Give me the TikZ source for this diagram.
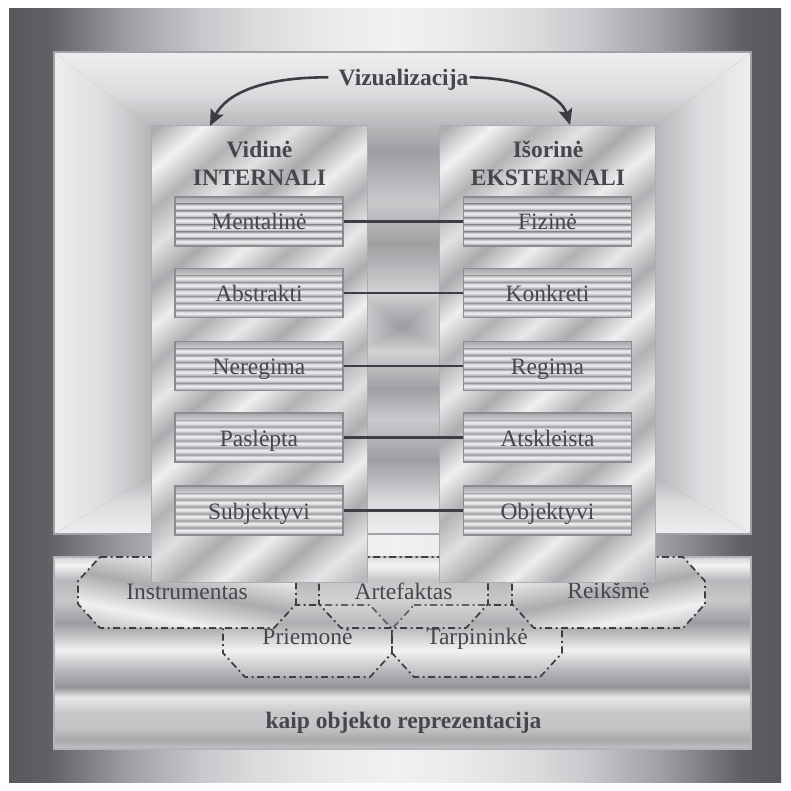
\documentclass[tikz,border=0pt]{standalone}
\usepackage{fontspec}
\setmainfont{Liberation Serif}
\usetikzlibrary{arrows.meta,calc}

% ---------- colours ----------
\definecolor{ink}{HTML}{47474B}
\definecolor{inkdark}{HTML}{3E3E42}
\definecolor{frameline}{HTML}{A2A2A6}
\definecolor{panelline}{HTML}{ADADB1}
\definecolor{itemline}{HTML}{8C8C90}
\definecolor{bandline}{HTML}{B4B4B8}

% ---------- fonts ----------
\newcommand\itemfnt{\fontsize{23.5}{28}\selectfont}
\newcommand\headfnt{\fontsize{23.5}{28}\selectfont\bfseries}

% ---------- shadings ----------
% outer backdrop: dark at both sides, bright in the middle
\pgfdeclarehorizontalshading{outerbg}{100bp}{%
 rgb(0bp)=(0.345,0.345,0.36); rgb(25bp)=(0.345,0.345,0.36);
 rgb(27.6bp)=(0.38,0.38,0.395); rgb(30.9bp)=(0.54,0.54,0.555);
 rgb(32.8bp)=(0.627,0.627,0.643); rgb(37.4bp)=(0.784,0.784,0.8);
 rgb(41.2bp)=(0.863,0.863,0.871); rgb(45.8bp)=(0.918,0.918,0.925);
 rgb(50bp)=(0.945,0.945,0.953);
 rgb(54.2bp)=(0.918,0.918,0.925); rgb(58.8bp)=(0.863,0.863,0.871);
 rgb(62.6bp)=(0.784,0.784,0.8); rgb(67.2bp)=(0.627,0.627,0.643);
 rgb(69.1bp)=(0.54,0.54,0.555); rgb(72.4bp)=(0.38,0.38,0.395);
 rgb(75bp)=(0.345,0.345,0.36); rgb(100bp)=(0.345,0.345,0.36)}

% frame profile, edge (t=0) -> centre (t=1)
\pgfdeclareverticalshading{frameRiseV}{100bp}{%
 rgb(0bp)=(0.933,0.933,0.94); rgb(25bp)=(0.933,0.933,0.94);
 rgb(32.5bp)=(0.863,0.863,0.875); rgb(38.5bp)=(0.722,0.722,0.735);
 rgb(43bp)=(0.62,0.62,0.635); rgb(52.5bp)=(0.792,0.792,0.805);
 rgb(60bp)=(0.627,0.627,0.64); rgb(69bp)=(0.824,0.824,0.835);
 rgb(75bp)=(0.604,0.604,0.62); rgb(100bp)=(0.604,0.604,0.62)}
\pgfdeclareverticalshading{frameFallV}{100bp}{%
 rgb(0bp)=(0.604,0.604,0.62); rgb(25bp)=(0.604,0.604,0.62);
 rgb(31bp)=(0.824,0.824,0.835); rgb(40bp)=(0.627,0.627,0.64);
 rgb(47.5bp)=(0.792,0.792,0.805); rgb(57bp)=(0.62,0.62,0.635);
 rgb(61.5bp)=(0.722,0.722,0.735); rgb(67.5bp)=(0.863,0.863,0.875);
 rgb(75bp)=(0.933,0.933,0.94); rgb(100bp)=(0.933,0.933,0.94)}
\pgfdeclarehorizontalshading{frameRiseH}{100bp}{%
 rgb(0bp)=(0.933,0.933,0.94); rgb(25bp)=(0.933,0.933,0.94);
 rgb(32.5bp)=(0.863,0.863,0.875); rgb(38.5bp)=(0.722,0.722,0.735);
 rgb(43bp)=(0.62,0.62,0.635); rgb(52.5bp)=(0.792,0.792,0.805);
 rgb(60bp)=(0.627,0.627,0.64); rgb(69bp)=(0.824,0.824,0.835);
 rgb(75bp)=(0.604,0.604,0.62); rgb(100bp)=(0.604,0.604,0.62)}
\pgfdeclarehorizontalshading{frameFallH}{100bp}{%
 rgb(0bp)=(0.604,0.604,0.62); rgb(25bp)=(0.604,0.604,0.62);
 rgb(31bp)=(0.824,0.824,0.835); rgb(40bp)=(0.627,0.627,0.64);
 rgb(47.5bp)=(0.792,0.792,0.805); rgb(57bp)=(0.62,0.62,0.635);
 rgb(61.5bp)=(0.722,0.722,0.735); rgb(67.5bp)=(0.863,0.863,0.875);
 rgb(75bp)=(0.933,0.933,0.94); rgb(100bp)=(0.933,0.933,0.94)}

% lower band: horizontal chrome bands
\pgfdeclareverticalshading{bandV}{100bp}{%
 rgb(0bp)=(0.769,0.769,0.78); rgb(25bp)=(0.769,0.769,0.78);
 rgb(27.3bp)=(0.659,0.659,0.67); rgb(30.7bp)=(0.769,0.769,0.78);
 rgb(34.6bp)=(0.784,0.784,0.795); rgb(38.5bp)=(0.91,0.91,0.918);
 rgb(41.1bp)=(0.58,0.58,0.595); rgb(45.1bp)=(0.706,0.706,0.72);
 rgb(50.8bp)=(0.941,0.941,0.948); rgb(57.8bp)=(0.612,0.612,0.627);
 rgb(63.8bp)=(0.784,0.784,0.795); rgb(69bp)=(0.722,0.722,0.735);
 rgb(72.9bp)=(0.957,0.957,0.962); rgb(75bp)=(0.831,0.831,0.842);
 rgb(100bp)=(0.831,0.831,0.842)}

% one stripe of a ribbed item box
\pgfdeclareverticalshading{stripe}{100bp}{%
 rgb(0bp)=(0.56,0.56,0.575); rgb(25bp)=(0.58,0.58,0.595);
 rgb(35bp)=(0.72,0.72,0.735); rgb(50bp)=(0.9,0.9,0.91);
 rgb(60bp)=(0.93,0.93,0.94); rgb(68bp)=(0.8,0.8,0.812);
 rgb(75bp)=(0.66,0.66,0.675); rgb(100bp)=(0.66,0.66,0.675)}

% brushed metal streaks
\pgfdeclarehorizontalshading{brushed}{100bp}{%
 rgb(0bp)=(0.769,0.769,0.78); rgb(2.5bp)=(0.933,0.933,0.94);
 rgb(5bp)=(0.671,0.671,0.685); rgb(7.5bp)=(0.902,0.902,0.91);
 rgb(10bp)=(0.70,0.70,0.712); rgb(12.5bp)=(0.949,0.949,0.955);
 rgb(15bp)=(0.665,0.665,0.68); rgb(17.5bp)=(0.871,0.871,0.88);
 rgb(20bp)=(0.716,0.716,0.73); rgb(22.5bp)=(0.941,0.941,0.948);
 rgb(25bp)=(0.679,0.679,0.69); rgb(27.5bp)=(0.91,0.91,0.918);
 rgb(30bp)=(0.673,0.673,0.686); rgb(32.5bp)=(0.949,0.949,0.955);
 rgb(35bp)=(0.70,0.70,0.712); rgb(37.5bp)=(0.886,0.886,0.895);
 rgb(40bp)=(0.667,0.667,0.68); rgb(42.5bp)=(0.933,0.933,0.94);
 rgb(45bp)=(0.695,0.695,0.708); rgb(47.5bp)=(0.91,0.91,0.918);
 rgb(50bp)=(0.673,0.673,0.686); rgb(52.5bp)=(0.941,0.941,0.948);
 rgb(55bp)=(0.70,0.70,0.712); rgb(57.5bp)=(0.878,0.878,0.888);
 rgb(60bp)=(0.679,0.679,0.69); rgb(62.5bp)=(0.933,0.933,0.94);
 rgb(65bp)=(0.673,0.673,0.686); rgb(67.5bp)=(0.902,0.902,0.91);
 rgb(70bp)=(0.716,0.716,0.73); rgb(72.5bp)=(0.949,0.949,0.955);
 rgb(75bp)=(0.665,0.665,0.68); rgb(77.5bp)=(0.871,0.871,0.88);
 rgb(80bp)=(0.70,0.70,0.712); rgb(82.5bp)=(0.941,0.941,0.948);
 rgb(85bp)=(0.679,0.679,0.69); rgb(87.5bp)=(0.91,0.91,0.918);
 rgb(90bp)=(0.673,0.673,0.686); rgb(92.5bp)=(0.933,0.933,0.94);
 rgb(95bp)=(0.70,0.70,0.712); rgb(97.5bp)=(0.894,0.894,0.902);
 rgb(100bp)=(0.753,0.753,0.765)}

\begin{document}
\begin{tikzpicture}[x={(1pt,0)},y={(0,-1pt)},
  panel/.style={draw=panelline, line width=1pt, inner sep=0pt,
    minimum width=216pt, minimum height=456pt,
    path picture={\shade[shading=brushed,shading angle=-50]
      ($(path picture bounding box.center)+(-300,-300)$) rectangle +(600,600);}},
  itembox/.style={draw=itemline, line width=1.2pt, inner sep=0pt,
    minimum width=168pt, minimum height=49pt, text height=17pt, text depth=0pt,
    font=\itemfnt, text=ink,
    path picture={\foreach \i in {0,...,6}{\shade[shading=stripe]
      ($(path picture bounding box.north west)+(0,7*\i)$) rectangle
      ($(path picture bounding box.north east)+(0,7*\i+7)$);}}},
  head/.style={font=\headfnt, text=ink, inner sep=0pt, anchor=base},
  label/.style={font=\itemfnt, text=ink, inner sep=0pt, anchor=base},
  conn/.style={draw=inkdark, line width=2.2pt},
  arr/.style={draw=inkdark, line width=2.6pt,
    -{Stealth[length=16pt,width=14pt,inset=3pt]}},
  octo/.style n args={4}{insert path={({#1+22},#2) -- ({#3-22},#2) -- (#3,{#2+24})
    -- (#3,{#4-24}) -- ({#3-22},#4) -- ({#1+22},#4) -- (#1,{#4-24})
    -- (#1,{#2+24}) -- cycle}},
  dashdot/.style={draw=inkdark, line width=1.7pt,
    dash pattern=on 7pt off 3.5pt on 2pt off 3.5pt},
  glassy/.style={dashdot, fill=white, fill opacity=0.18},
  brushedfill/.style={dashdot, path picture={\shade[shading=brushed,shading angle=#1]
      ($(path picture bounding box.center)+(-300,-300)$) rectangle +(600,600);}}
]
\useasboundingbox (0,0) rectangle (790,791);
\fill[white] (0,0) rectangle (790,791);

% backdrop
\shade[shading=outerbg] (9,9) rectangle (781,782);

% upper frame: four mitred gradient sectors meeting at one focus
\coordinate (fc) at (402,326);
\shade[shading=frameFallV] (54,52) -- (751,52) -- (fc) -- cycle;
\shade[shading=frameRiseV] (54,534) -- (751,534) -- (fc) -- cycle;
\shade[shading=frameRiseH] (54,52) -- (54,534) -- (fc) -- cycle;
\shade[shading=frameFallH] (751,52) -- (751,534) -- (fc) -- cycle;
\draw[frameline, line width=1.2pt] (54,52) rectangle (751,534);

% lower band
\shade[shading=bandV] (54,557) rectangle (751,749);
\draw[bandline, line width=1.2pt] (54,557) rectangle (751,749);

% dash-dotted octagons
\path[glassy, octo={223}{605}{392}{677}];
\path[glassy, octo={392}{605}{562}{677}];
\path[glassy, octo={319}{557}{488}{628}];
\path[brushedfill=-101, octo={78}{557}{296}{628}];
\path[brushedfill=-78, octo={512}{557}{705}{628}];

\node[label] (instr) at (187,599) {Instrumentas};
\node[label] (artef) at (403.5,599) {Artefaktas};
\node[label] (reiks) at (608.5,598) {Reikšmė};
\node[label] (priem) at (307.5,644) {Priemonė};
\node[label] (tarp)  at (477,644) {Tarpininkė};

\node[head] (repr) at (403.5,728) {kaip objekto reprezentacija};

% the two panels
\node[panel] (lp) at (259,354) {};
\node[panel] (rp) at (547.5,354) {};

\node[head] (vid1) at (259.5,158) {Vidinė};
\node[head] (vid2) at (259.5,186) {INTERNALI};
\node[head] (isor1) at (548,158) {Išorinė};
\node[head] (isor2) at (548,186) {EKSTERNALI};

% paired items
\node[itembox] (m1) at (259,221.5) {Mentalinė};
\node[itembox] (m2) at (259,293)   {Abstrakti};
\node[itembox] (m3) at (259,366)   {Neregima};
\node[itembox] (m4) at (259,437.5) {Paslėpta};
\node[itembox] (m5) at (259,510.5) {Subjektyvi};

\node[itembox] (e1) at (547.5,221.5) {Fizinė};
\node[itembox] (e2) at (547.5,293)   {Konkreti};
\node[itembox] (e3) at (547.5,366)   {Regima};
\node[itembox] (e4) at (547.5,437.5) {Atskleista};
\node[itembox] (e5) at (547.5,510.5) {Objektyvi};

\foreach \k in {1,...,5}{\draw[conn] (m\k.east) -- (e\k.west);}

% visualisation arrows
\node[head] (viz) at (403.5,86) {Vizualizacija};
\coordinate (tipL) at (210,126);
\coordinate (tipR) at (570,125);
\draw[arr] ([xshift=-10pt,yshift=3pt]viz.west) .. controls (262,77) and (226,94) .. (tipL);
\draw[arr] ([xshift=1pt,yshift=3pt]viz.east) .. controls (530,78) and (562,98) .. (tipR);
\end{tikzpicture}
\end{document}
